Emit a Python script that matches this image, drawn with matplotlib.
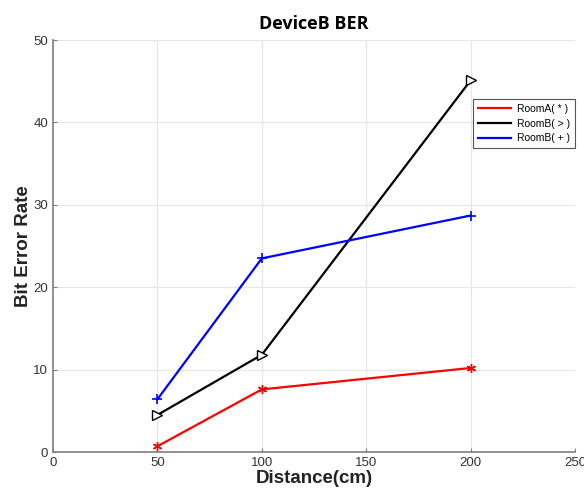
import matplotlib
matplotlib.use("Agg")
import matplotlib.pyplot as plt
from matplotlib.lines import Line2D

distance = [50, 100, 200]
room_a_star = [0.7, 7.6, 10.2]
room_b_tri = [4.5, 11.8, 45.1]
room_b_plus = [6.4, 23.5, 28.7]
labels = ["RoomA( * )", "RoomB( > )", "RoomB( + )"]
colors = ['red', 'black', 'blue']

plt.rcParams['font.family'] = ['Liberation Sans', 'DejaVu Sans']

fig = plt.figure(figsize=(5.84, 4.97), dpi=100)
ax = fig.add_axes([0.0908, 0.0905, 0.8938, 0.829])

ax.plot(distance, room_a_star, color=colors[0], lw=1.6, marker=(6, 2, 0),
        ms=6.5, mew=1)
ax.plot(distance, room_b_tri, color=colors[1], lw=1.6, marker='>',
        ms=6.5, mfc='white', mew=1)
ax.plot(distance, room_b_plus, color=colors[2], lw=1.6, marker='+',
        ms=7.5, mew=1.2)

ax.set_xlim(0, 250)
ax.set_ylim(0, 50)
ax.set_xticks([0, 50, 100, 150, 200, 250])
ax.set_yticks([0, 10, 20, 30, 40, 50])
ax.grid(True, color='#e6e6e6', lw=0.8)
ax.set_axisbelow(True)
for s in ['top', 'right']:
    ax.spines[s].set_visible(False)
for s in ['left', 'bottom']:
    ax.spines[s].set_color('#808080')
    ax.spines[s].set_linewidth(1.2)
ax.tick_params(direction='in', length=3, color='#808080', labelsize=9.5,
               labelcolor='#333333')

ax.set_xlabel("Distance(cm)", fontsize=13.5, fontweight='bold', color='#222222',
              labelpad=1)
ax.set_ylabel("Bit Error Rate", fontsize=13.5, fontweight='bold', color='#222222',
              labelpad=1)
ax.set_title("DeviceB BER", fontsize=13, fontweight='bold', family='Open Sans',
             pad=8)

# legend shows plain lines only
handles = [Line2D([], [], color=c, lw=1.6) for c in colors]
leg = ax.legend(handles, labels, loc='upper right', bbox_to_anchor=(1.0, 0.856),
                borderaxespad=0, fontsize=7.5, handlelength=3.2,
                handletextpad=0.6, borderpad=0.45, labelspacing=0.45,
                fancybox=False, framealpha=1)
leg.get_frame().set_edgecolor('#555555')
leg.get_frame().set_linewidth(0.8)

fig.savefig("out.png", dpi=100)
